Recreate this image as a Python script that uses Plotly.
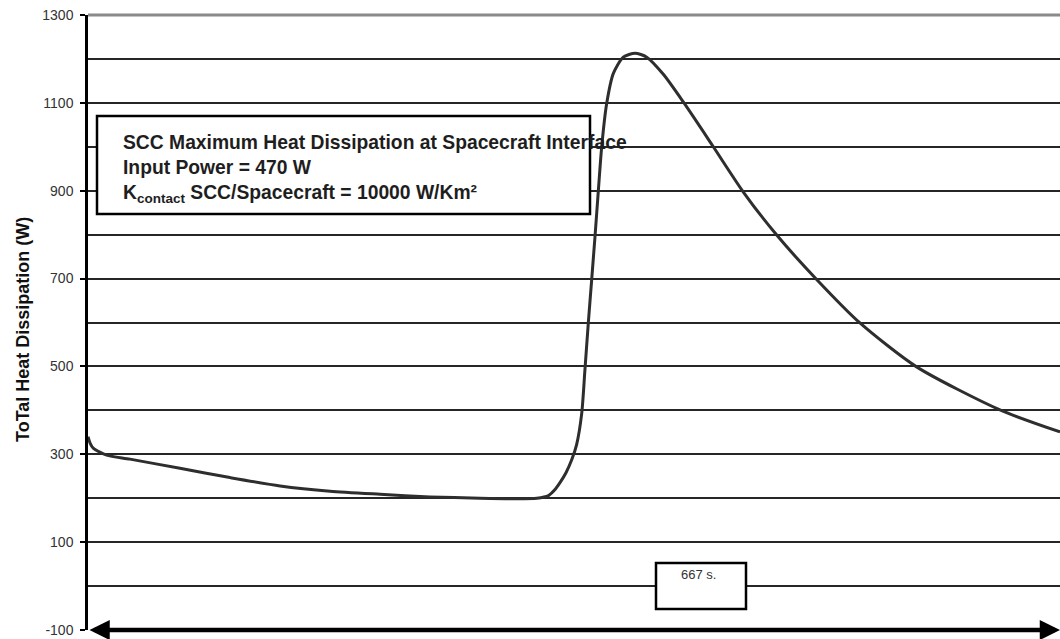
import plotly.graph_objects as go

# ---- data ----
time_s = [0, 1.5, 3.6, 12.8, 28.8, 63.1, 97.4, 131.8, 166.1, 200.4, 234.7, 269.0,
          290, 308, 316, 320, 324, 328, 332, 335.3, 338.8, 341.0, 343.3, 345.6,
          347.9, 350.2, 352.5, 355.9, 360.5, 367.3, 375.4, 383.4, 394.8, 408.5,
          429.1, 449.7, 472.6, 500.0, 529.7, 568.6, 625.8, 667]
heat_w = [340, 325, 314, 298, 289, 268, 247, 228, 216, 209, 203, 200,
          199, 200, 206, 218, 236, 258, 288, 322, 393, 492, 598, 696,
          795, 900, 1000, 1098, 1167, 1204, 1213, 1204, 1165, 1102,
          1000, 897, 799, 698, 599, 499, 401, 351]

y_min, y_max = -100, 1300
x_min, x_max = 0, 667
y_tick_vals = [-100, 100, 300, 500, 700, 900, 1100, 1300]
y_tick_text = ["-100", "100", "300", "500", "700", "900", "1100", "1300"]
y_title = "ToTal Heat Dissipation (W)"
box_lines = ["SCC Maximum Heat Dissipation at Spacecraft Interface",
             "Input Power = 470 W",
             "K<sub>contact</sub> SCC/Spacecraft = 10000 W/Km²"]
duration_label = "667 s."

FONT = "Liberation Sans, Arial, sans-serif"

fig = go.Figure()
fig.add_trace(go.Scatter(
    x=time_s, y=heat_w, mode="lines",
    line=dict(color="#2e2e2e", width=3, shape="spline", smoothing=0.7),
    hoverinfo="skip", showlegend=False,
))

fig.update_layout(
    width=1060, height=639,
    margin=dict(l=88, r=0, t=15, b=9),
    paper_bgcolor="white", plot_bgcolor="white",
    font=dict(family=FONT, color="#222"),
    xaxis=dict(visible=False, range=[x_min, x_max], fixedrange=True),
    yaxis=dict(
        range=[y_min, y_max], tickvals=y_tick_vals, ticktext=y_tick_text,
        ticks="outside", ticklen=5, tickwidth=1.5, tickcolor="black",
        ticklabelstandoff=4,
        tickfont=dict(size=14, color="#333", family=FONT),
        showline=True, linecolor="black", linewidth=2.5,
        showgrid=True, gridcolor="#262626", gridwidth=1.5,
        zeroline=False, fixedrange=True,
        minor=dict(dtick=100, tick0=0, showgrid=True, gridcolor="#262626",
                   gridwidth=1.5, ticks=""),
    ),
)

shapes = [
    # top border line (gray)
    dict(type="line", xref="paper", yref="paper", x0=0, x1=1, y0=1, y1=1,
         line=dict(color="#8a8a8a", width=3), layer="above"),
    # text box
    dict(type="rect", xref="paper", yref="paper",
         x0=(97 - 88) / 972, x1=(590 - 88) / 972,
         y0=(630 - 214) / 615, y1=(630 - 116) / 615,
         line=dict(color="black", width=2.5), fillcolor="white", layer="above"),
    # duration box
    dict(type="rect", xref="paper", yref="paper",
         x0=(656 - 88) / 972, x1=(746 - 88) / 972,
         y0=(630 - 609) / 615, y1=(630 - 563) / 615,
         line=dict(color="black", width=2.5), fillcolor="white", layer="above"),
]
fig.update_layout(shapes=shapes)

annotations = [
    dict(text="<br>".join(box_lines), xref="paper", yref="paper",
         x=(121 - 88) / 972, y=(630 - 130) / 615, xanchor="left", yanchor="top",
         align="left", showarrow=False,
         font=dict(family=FONT, size=19.3, color="#1e1e1e", weight="bold")),
    dict(text=duration_label, xref="paper", yref="paper",
         x=(698 - 88) / 972, y=(630 - 574) / 615, xanchor="center", yanchor="middle",
         showarrow=False, font=dict(family=FONT, size=13, color="#333")),
    dict(text=y_title, xref="paper", yref="paper",
         x=(23 - 88) / 972, y=(630 - 330) / 615, xanchor="center", yanchor="middle",
         textangle=-90, showarrow=False,
         font=dict(family=FONT, size=18, color="#111", weight="bold")),
    dict(text="", x=x_max, y=y_min, ax=x_min, ay=y_min,
         xref="x", yref="y", axref="x", ayref="y",
         showarrow=True, arrowhead=2, arrowside="end+start",
         arrowwidth=4.5, arrowsize=0.9, arrowcolor="black"),
]
fig.update_layout(annotations=annotations)

fig.write_html("out.html", config={"displayModeBar": False},
               post_script="document.body.style.margin='0';document.body.style.overflow='hidden';")
